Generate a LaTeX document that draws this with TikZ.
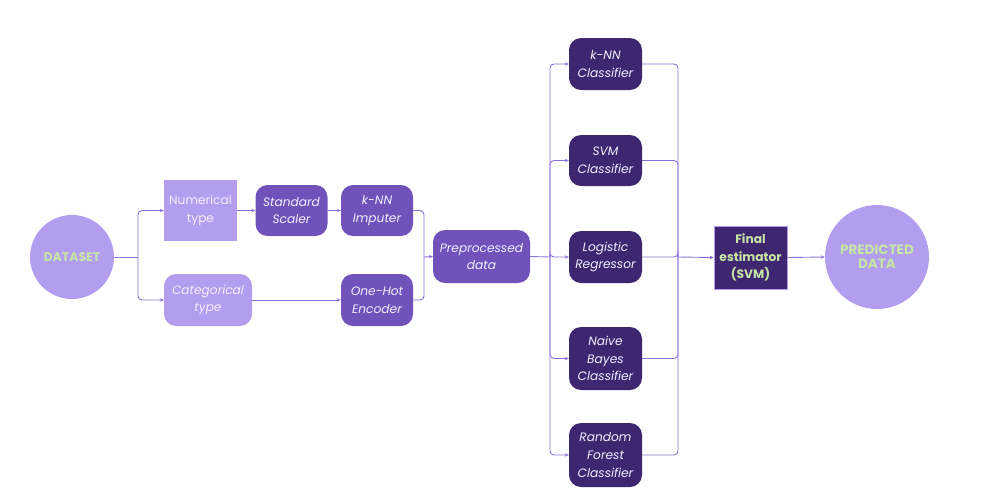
\documentclass[tikz,border=0pt]{standalone}
\usepackage{fontspec}
\setmainfont{Poppins}
\usetikzlibrary{arrows.meta}
\definecolor{lightp}{HTML}{B39DEE}
\definecolor{midp}{HTML}{7052BA}
\definecolor{darkp}{HTML}{3E2770}
\definecolor{linep}{HTML}{8A70D6}
\definecolor{greent}{HTML}{C5E6A6}
\definecolor{whitet}{HTML}{F2EEFF}
\tikzset{
  base/.style={align=center, inner sep=0pt, font=\fontsize{12.2}{17.6}\selectfont, text=whitet},
  lightrect/.style={base, fill=lightp, minimum width=73pt, minimum height=61pt},
  lightround/.style={base, fill=lightp, rounded corners=12pt, minimum width=88pt, minimum height=52pt, font=\fontsize{12.2}{17.6}\selectfont\itshape},
  midround/.style={base, fill=midp, rounded corners=12pt, minimum width=72pt, minimum height=51pt, font=\fontsize{12.2}{17.6}\selectfont\itshape},
  darkround/.style={base, fill=darkp, rounded corners=12pt, minimum width=73pt, font=\fontsize{12.2}{17.6}\selectfont\itshape},
  bigcircle/.style={circle, fill=lightp, inner sep=0pt, align=center, text=greent, font=\fontsize{12.5}{13}\selectfont\bfseries},
  conn/.style={draw=linep, line width=0.9pt, rounded corners=4pt},
  arr/.style={conn, -{Stealth[length=4pt,width=3.5pt]}},
}
\begin{document}
\begin{tikzpicture}[x=1pt,y=-1pt]
\useasboundingbox (0,0) rectangle (991,496);
% nodes
\node[bigcircle, minimum size=84pt] (ds) at (72,257) {DATASET};
\node[lightrect] (num) at (200.5,210.5) {Numerical\\type};
\node[lightround] (cat) at (208,300) {Categorical\\type};
\node[midround] (ss) at (291.5,210.5) {Standard\\Scaler};
\node[midround] (imp) at (377,210.5) {k-NN\\Imputer};
\node[midround, minimum height=52pt] (ohe) at (377,300) {One-Hot\\Encoder};
\node[midround, minimum width=97pt, minimum height=53pt] (pre) at (481.5,256.5) {Preprocessed\\data};
\node[darkround, minimum height=52pt] (knn) at (605.5,64) {k-NN\\Classifier};
\node[darkround, minimum height=51pt] (svm) at (605.5,160.5) {SVM\\Classifier};
\node[darkround, minimum height=52pt] (lr) at (605.5,257) {Logistic\\Regressor};
\node[darkround, minimum height=63pt] (nb) at (605.5,358.5) {Naive\\Bayes\\Classifier};
\node[darkround, minimum height=64pt] (rf) at (605.5,455) {Random\\Forest\\Classifier};
\node[base, fill=darkp, draw=lightp, line width=0.6pt, minimum width=73pt, minimum height=63pt, text=greent, font=\fontsize{12.2}{17.3}\selectfont\bfseries] (fin) at (750.5,257.5) {Final\\estimator\\(SVM)};
\node[bigcircle, minimum size=104pt, font=\fontsize{13.5}{14}\selectfont\bfseries] (pd) at (877,257) {PREDICTED\\DATA};
% junction coordinates
\coordinate (s1) at (138,257);
\coordinate (m1) at (424,257);
\coordinate (b1) at (550,257);
\coordinate (b2) at (678,257);
% connectors
\draw[conn] (ds.east) -- (s1);
\draw[arr] (s1) |- (num.west);
\draw[arr] (s1) |- (cat.west);
\draw[arr] (num.east) -- (ss.west);
\draw[arr] (ss.east) -- (imp.west);
\draw[arr] (cat.east) -- (ohe.west);
\draw[conn] (imp.east) -| (m1);
\draw[conn] (ohe.east) -| (m1);
\draw[arr] (m1) -- (pre.west);
\draw[conn] (pre.east) -- (b1);
\foreach \n in {knn,svm,lr,nb,rf}{
  \draw[arr] (b1) |- (\n.west);
  \draw[conn] (\n.east) -| (b2);
}
\draw[arr] (b2) -- (fin.west);
\draw[arr] (fin.east) -- (pd.west);
\end{tikzpicture}
\end{document}
